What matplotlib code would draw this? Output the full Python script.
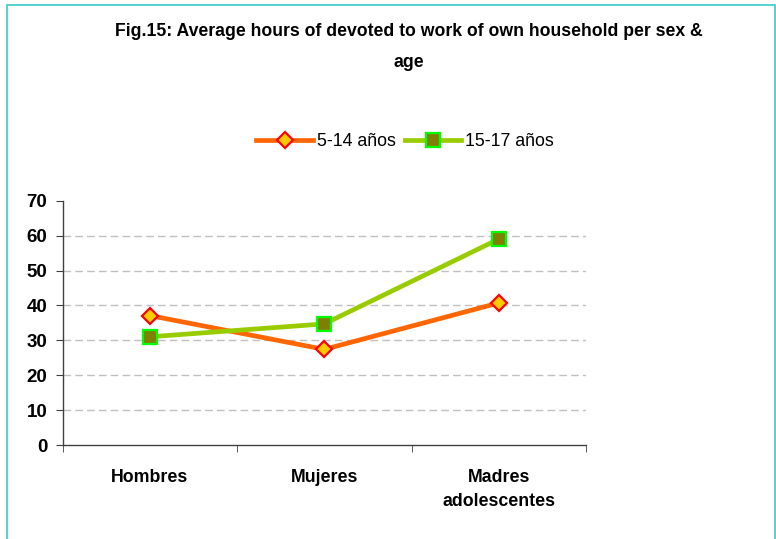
import matplotlib
matplotlib.use("Agg")
import matplotlib.pyplot as plt
from matplotlib.patches import Rectangle
from matplotlib.ticker import FixedLocator

categories = ["Hombres", "Mujeres", "Madres\nadolescentes"]
series_names = ["5-14 años", "15-17 años"]
values_5_14 = [37.1, 27.4, 40.7]
values_15_17 = [31.0, 34.7, 59.0]
yticks = [0, 10, 20, 30, 40, 50, 60, 70]
title = "Fig.15: Average hours of devoted to work of own household per sex &\nage"

FONT = ["Liberation Sans Narrow", "Liberation Sans", "DejaVu Sans"]
plt.rcParams["font.family"] = FONT

W, H = 776, 539
fig = plt.figure(figsize=(W / 100, H / 100), dpi=100)
fig.patch.set_facecolor("white")

# frame border
fig.patches.append(Rectangle((7 / W, -0.2), (775 - 7) / W, 1.2 - 5 / H,
                             transform=fig.transFigure, fill=False,
                             edgecolor="#33cccc", lw=1.2, clip_on=False))

ax = fig.add_axes([62.5 / W, 94 / H, (586 - 62.5) / W, (445 - 200.7) / H])
x = list(range(len(categories)))

ax.plot(x, values_5_14, color="#ff6600", lw=3.4, marker="D", markersize=8.5,
        markerfacecolor="#ffcc00", markeredgecolor="#ff0000", markeredgewidth=1.6,
        label=series_names[0], zorder=3)
ax.plot(x, values_15_17, color="#99cc00", lw=3.4, marker="s", markersize=10,
        markerfacecolor="#808000", markeredgecolor="#00ff00", markeredgewidth=1.6,
        label=series_names[1], zorder=3)

ax.set_xlim(-0.5, len(categories) - 0.5)
ax.set_ylim(0, 70)
ax.set_yticks(yticks)
ax.set_yticklabels([str(v) for v in yticks], fontsize=13.5, fontweight="bold")
ax.set_xticks(x)
ax.set_xticklabels(categories, fontsize=12.8, fontweight="bold", linespacing=1.55)
ax.xaxis.set_minor_locator(FixedLocator([i - 0.5 for i in range(len(categories) + 1)]))
ax.tick_params(axis="x", which="major", length=0, pad=17)
ax.tick_params(axis="x", which="minor", length=5, direction="out", color="#404040")
ax.tick_params(axis="y", length=5, direction="out", pad=6, color="#404040")

for v in yticks[1:-1]:
    ax.axhline(v, color="#c0c0c0", lw=1, dashes=(5.5, 3), zorder=1)

for s in ["top", "right"]:
    ax.spines[s].set_visible(False)
for s in ["left", "bottom"]:
    ax.spines[s].set_color("#404040")
    ax.spines[s].set_linewidth(1)

fig.text(409 / W, 1 - 23 / H, title, ha="center", va="top", fontsize=12.7,
         fontweight="bold", linespacing=2.05)

leg = fig.legend(loc="center", bbox_to_anchor=(405 / W, 1 - 142 / H), ncol=2,
                 frameon=False, fontsize=12.8, handlelength=3.2, handletextpad=0.2,
                 columnspacing=0.5)

fig.savefig("out.png", dpi=100, facecolor="white")
